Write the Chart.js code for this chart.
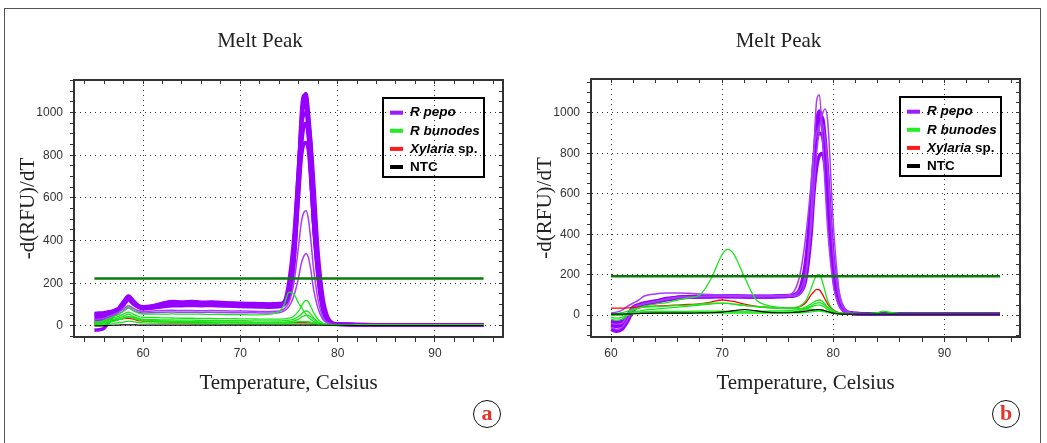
<!DOCTYPE html>
<html>
<head>
<meta charset="utf-8">
<script src="https://cdn.jsdelivr.net/npm/chart.js@4.4.1/dist/chart.umd.min.js"></script>
<style>
  body { margin: 0; background: #fff; width: 1047px; height: 443px; overflow: hidden; position: relative; }
  #frame { position: absolute; left: 4px; top: 8px; width: 1037px; height: 445px; border: 1px solid #555; box-sizing: border-box; }
  .box { position: absolute; top: 9px; height: 430px; }
  #boxA { left: 5px; width: 510px; }
  #boxB { left: 521px; width: 515px; }
  .tag { position: absolute; top: 400px; width: 28px; height: 28px; border: 1.5px solid #111; border-radius: 50%;
         box-sizing: border-box; color: #e6332a; font: bold 22px "Liberation Serif", serif; text-align: center; line-height: 23px; }
</style>
</head>
<body>
<div id="frame"></div>
<div class="box" id="boxA"><canvas id="chartA" width="510" height="430"></canvas></div>
<div class="box" id="boxB"><canvas id="chartB" width="515" height="430"></canvas></div>
<div class="tag" style="left:473px">a</div>
<div class="tag" style="left:992px">b</div>

<script>
// ---- panel a : temperatures (°C) ----
const tempsA = [55, 55.5, 56, 56.5, 57, 57.5, 58, 58.5, 59, 59.5, 60,
  61, 62, 63, 64, 65, 66, 67, 68, 69, 70, 71, 72, 73, 74,
  74.5, 75, 75.5, 76,
  76.25, 76.5, 76.75, 77, 77.25, 77.5,
  78, 78.5, 79, 79.5, 80,
  82, 84, 86, 88, 90, 92, 95];

// R pepo curves, panel a
const pepoA = [
  [50,52,55,62,70,82,112,140,118,96,88, 92,102,110,108,112,108,110,106,105,103,102,101,100,102, 108,150,330,720, 920,1060,1090,1000,850,650, 300,100,30,12,9, 7,6,6,5,5,5,5],
  [-20,-18,-10,20,55,75,105,130,110,92,85, 90,98,104,103,105,102,104,101,100,98,97,96,95,97, 112,170,380,760, 950,1050,1020,920,760,560, 250,80,24,10,8, 6,6,5,5,5,5,5],
  [40,42,46,55,65,78,100,125,105,90,82, 88,95,100,100,102,100,101,99,98,97,96,95,94,96, 110,210,420,760, 920,990,1000,960,860,700, 340,130,40,14,9, 7,6,6,5,5,5,5],
  [10,15,25,45,62,74,98,122,102,88,80, 84,90,94,95,96,95,96,94,93,91,90,89,88,90, 100,140,300,640, 820,930,950,880,700,500, 220,70,20,9,7, 6,5,5,5,5,5,5],
  [58,60,62,66,72,84,115,138,115,95,90, 95,106,114,112,115,111,112,110,108,106,105,104,103,105, 110,160,340,720, 980,1080,1040,900,700,500, 230,75,22,10,8, 6,6,5,5,5,5,5],
  [25,28,35,50,64,76,102,128,108,92,84, 86,92,97,97,99,97,98,96,95,94,93,92,91,93, 104,140,290,620, 780,850,860,820,680,500, 240,90,28,11,8, 6,6,5,5,5,5,5]
];
const pepoThinA = [
  [30,32,36,45,55,65,80,95,82,72,68, 70,72,73,72,72,71,72,71,70,70,69,68,68,70, 80,110,200,380, 480,530,540,500,400,280, 120,40,15,8,6, 5,5,5,5,5,5,5],
  [20,22,28,38,48,56,70,85,72,64,60, 62,64,65,64,64,63,64,63,62,62,62,61,61,62, 70,90,140,230, 290,325,340,320,260,180, 80,30,12,7,5, 5,5,5,5,5,5,5]
];
// R bunodes curves, panel a
const bunodesA = [
  [15,18,25,35,45,55,70,88,72,60,55, 55,55,56,55,55,55,54,54,53,53,52,52,55,68, 100,158,150,105, 90,70,55,40,30,22, 12,8,6,5,5, 5,5,5,5,5,5,5],
  [10,12,18,28,38,45,55,65,55,45,40, 40,38,37,36,36,35,35,34,34,33,33,32,32,32, 33,36,45,70, 90,110,120,112,90,65, 30,12,7,5,5, 5,5,5,5,5,5,5],
  [8,10,14,22,30,38,45,55,45,35,30, 30,28,28,27,27,26,26,25,25,25,24,24,24,24, 25,27,32,45, 55,65,70,66,55,40, 18,8,6,5,5, 5,5,5,5,5,5,5],
  [5,6,10,16,22,28,35,42,35,28,24, 22,20,20,19,19,18,18,18,18,17,17,17,17,18, 18,20,24,32, 40,46,50,48,42,32, 15,7,5,5,5, 5,5,5,5,5,5,5],
  [20,20,22,25,28,32,38,45,40,32,28, 26,24,22,21,20,19,18,17,17,16,16,15,15,15, 15,16,18,20, 20,20,20,19,18,16, 10,6,5,5,5, 5,5,5,5,5,5,5],
  [2,3,5,8,12,15,18,22,20,16,14, 13,12,12,12,11,11,11,10,10,10,10,10,10,10, 10,10,10,10, 10,10,10,10,9,9, 7,6,5,5,5, 5,5,5,5,5,5,5]
];
// Xylaria sp. and NTC, panel a
const xylariaA = [15,16,18,22,26,30,34,36,32,25,22, 20,19,18,18,18,17,17,17,16,16,16,15,15,15, 15,15,15,15, 15,15,15,14,14,13, 10,7,5,5,5, 5,5,5,5,5,5,5];
const ntcA = [0,0,1,2,3,4,5,5,5,4,4, 4,4,4,4,4,4,4,4,4,4,4,4,4,4, 4,4,4,4, 4,4,4,4,4,4, 3,3,3,3,3, 2,2,2,2,2,2,2];
const thresholdA = 222;
const thresholdSpanA = [55, 95];

// ---- panel b : temperatures (°C) ----
const tempsB = [60, 60.5, 61, 61.5, 62, 62.5, 63,
  64, 65, 66, 67, 68, 69, 70,
  70.5, 71, 72, 73, 74, 75, 76,
  76.5, 77, 77.5, 78,
  78.25, 78.5, 78.75, 79, 79.25, 79.5,
  80, 80.5, 81, 81.5, 82,
  83, 84, 84.5, 85, 86,
  88, 90, 92, 95];

const pepoB = [
  [-50,-55,-50,-10,35,48,56, 66,78,87,90,91,92,92, 92,92,92,91,91,92,94, 98,115,200,480, 720,900,970,980,880,700, 250,70,22,11,8, 6,6,6,5,5, 5,5,5,5],
  [-30,-35,-30,0,40,52,60, 70,82,89,92,94,94,95, 95,95,94,94,94,95,97, 102,130,260,560, 760,870,900,890,800,640, 280,90,28,12,8, 6,6,6,5,5, 5,5,5,5],
  [-70,-80,-70,-30,25,45,54, 64,76,85,88,90,90,91, 91,91,90,90,90,91,93, 96,110,170,400, 600,730,790,800,740,600, 230,70,22,10,7, 6,6,5,5,5, 5,5,5,5],
  [-45,-50,-45,-5,38,50,57, 67,79,87,90,92,93,93, 93,93,92,92,92,93,95, 99,112,190,470, 740,950,1010,960,800,560, 200,60,20,10,8, 6,6,6,5,5, 5,5,5,5]
];
const pepoThinB = [
  [-40,-45,-40,0,40,50,58, 68,80,88,90,92,92,93, 93,92,92,92,92,92,93, 95,105,180,500, 800,1060,1090,900,650,420, 150,50,18,10,8, 6,6,6,5,5, 5,5,5,5],
  [-60,-70,-60,-20,30,48,56, 66,78,86,90,92,93,93, 93,93,92,92,93,94,96, 100,125,200,420, 620,800,920,990,1020,960, 450,130,35,14,9, 7,6,6,5,5, 5,5,5,5],
  [10,15,25,45,60,75,95, 105,110,110,108,105,102,100, 98,97,96,95,95,96,100, 120,200,380,650, 820,900,940,950,880,720, 300,95,30,12,8, 6,6,6,5,5, 5,5,5,5]
];
const bunodesB = [
  [5,5,5,10,25,35,45, 55,62,75,85,100,180,300, 325,305,190,80,50,40,35, 33,32,30,28, 26,25,24,22,20,18, 12,8,6,6,6, 6,6,6,6,6, 5,5,5,5],
  [-10,-15,-10,5,15,20,25, 30,35,40,45,50,55,60, 58,55,48,42,38,36,35, 38,45,70,130, 170,195,200,170,120,70, 25,12,8,6,6, 6,6,6,6,6, 5,5,5,5],
  [0,0,2,8,12,15,17, 18,18,19,19,20,20,20, 20,20,20,20,20,21,22, 25,30,40,55, 65,72,75,70,55,40, 18,9,6,6,6, 7,12,20,15,8, 5,5,5,5],
  [-20,-25,-20,0,8,10,12, 13,14,14,15,15,15,15, 15,15,15,15,15,15,16, 18,22,30,40, 46,50,50,46,38,28, 14,8,6,6,6, 6,6,6,6,6, 5,5,5,5],
  [5,8,12,20,30,35,40, 42,45,48,50,55,60,60, 58,55,48,42,38,35,33, 32,32,35,45, 55,60,62,58,48,35, 18,9,6,6,6, 6,6,6,6,6, 5,5,5,5],
  [0,0,2,6,8,10,10, 10,10,10,10,10,10,10, 10,10,10,10,10,10,11, 12,12,14,16, 18,20,20,18,16,14, 9,7,6,6,6, 6,6,6,6,6, 5,5,5,5]
];
const xylariaB = [35,35,35,36,38,40,42, 45,47,50,53,56,65,75, 72,68,55,45,40,36,36, 37,42,60,100, 115,128,125,105,80,55, 25,12,8,6,6, 6,6,6,6,6, 5,5,5,5];
const ntcB = [5,5,5,6,7,8,9, 10,10,10,10,11,12,15, 18,22,28,22,15,12,12, 14,16,20,24, 26,27,28,26,22,18, 10,6,5,5,5, 5,5,5,5,5, 5,5,5,5];
const thresholdB = 193;
const thresholdSpanB = [60, 95];

const legendItems = [
  { color: '#9d1cff', parts: [['R pepo', 'italic bold']] },
  { color: '#22ee22', parts: [['R bunodes', 'italic bold']] },
  { color: '#ff1a1a', parts: [['Xylaria', 'italic bold'], [' sp.', 'bold']] },
  { color: '#000000', parts: [['NTC', 'bold']] }
];

const PURPLE = '#9600ff', PURPLE_THIN = '#a83cff', GREEN = '#19e619', RED = '#ff0000', DKGREEN = '#0b7a0b';

// legend box drawn inside the plot, top right
const legendBox = {
  id: 'legendBox',
  afterDraw(chart) {
    const { ctx, chartArea } = chart;
    const x = chartArea.right - 120, y = chartArea.top + 18;
    ctx.save();
    ctx.lineWidth = 2;
    ctx.strokeStyle = '#000';
    ctx.strokeRect(x, y, 101, 79);
    legendItems.forEach((item, i) => {
      const ry = y + 14.7 + i * 18.1;
      ctx.fillStyle = item.color;
      ctx.fillRect(x + 7, ry - 2, 13, 4);
      let tx = x + 27;
      ctx.textBaseline = 'middle';
      item.parts.forEach(([text, style]) => {
        ctx.font = style + ' 13.5px "Liberation Sans", Arial, sans-serif';
        ctx.fillStyle = '#000';
        ctx.fillText(text, tx, ry);
        tx += ctx.measureText(text).width;
      });
    });
    ctx.restore();
  }
};

function line(temps, values, color, width) {
  return {
    data: temps.map((t, i) => ({ x: t, y: values[i] })),
    borderColor: color, borderWidth: width, pointRadius: 0,
    cubicInterpolationMode: 'monotone', fill: false
  };
}

function buildChart(id, temps, set, box) {
  const datasets = [];
  datasets.push({
    data: [{ x: set.span[0], y: set.threshold }, { x: set.span[1], y: set.threshold }],
    borderColor: DKGREEN, borderWidth: 2.5, pointRadius: 0
  });
  datasets.push(line(temps, set.ntc, '#000', 1.2));
  set.bunodes.forEach(v => datasets.push(line(temps, v, GREEN, 1.3)));
  datasets.push(line(temps, set.xylaria, RED, 1.3));
  set.thin.forEach(v => datasets.push(line(temps, v, PURPLE_THIN, 1.5)));
  set.pepo.forEach(v => datasets.push(line(temps, v, PURPLE, 3.5)));

  const tickFont = { family: '"Liberation Sans", Arial, sans-serif', size: 12 };
  const serif = { family: '"Liberation Serif", "Times New Roman", serif', size: 21, weight: 'normal' };

  return new Chart(document.getElementById(id), {
    type: 'line',
    data: { datasets },
    plugins: [legendBox],
    options: {
      responsive: false,
      animation: false,
      layout: { padding: 0 },
      plugins: {
        legend: { display: false },
        tooltip: { enabled: false },
        title: { display: true, text: 'Melt Peak', color: '#222', font: serif, padding: { top: 20, bottom: 0 } }
      },
      scales: {
        x: {
          type: 'linear', position: 'bottom', min: set.xMin, max: set.xMax,
          ticks: {
            stepSize: 2, includeBounds: false, autoSkip: false, maxRotation: 0,
            color: '#333', font: tickFont, padding: 4,
            callback: v => (v % 10 === 0 ? v : '')
          },
          grid: {
            color: c => (c.tick && c.tick.value % 10 === 0 ? '#333' : 'rgba(0,0,0,0)'),
            tickColor: '#333', tickLength: 5, tickWidth: 1, tickBorderDash: []
          },
          border: { color: '#333', width: 2, dash: [1, 4] },
          title: { display: true, text: 'Temperature, Celsius', color: '#222', font: serif, padding: { top: 0, bottom: 43.4 } },
          afterFit: s => { s.height = 430 - box.bottom; }
        },
        x2: {
          type: 'linear', position: 'top', min: set.xMin, max: set.xMax,
          ticks: { stepSize: 2, includeBounds: false, display: false },
          grid: { drawOnChartArea: false, tickColor: '#333', tickLength: -4, tickBorderDash: [] },
          border: { color: '#333', width: 2 },
          afterFit: s => { s.height = box.top - 45.2; }
        },
        y: {
          type: 'linear', position: 'left', min: set.yMin, max: set.yMax,
          ticks: {
            stepSize: 50, includeBounds: false, autoSkip: false,
            color: '#333', font: tickFont, padding: 7,
            callback: v => (v % 200 === 0 && v >= 0 ? v : '')
          },
          grid: {
            color: c => (c.tick && c.tick.value % 200 === 0 ? '#333' : 'rgba(0,0,0,0)'),
            tickColor: '#333', tickLength: 4, tickWidth: 1, tickBorderDash: []
          },
          border: { color: '#333', width: 2, dash: [1, 4] },
          title: { display: true, text: '-d(RFU)/dT', color: '#222', font: serif, padding: { top: box.yTitle, bottom: 0 } },
          afterFit: s => { s.width = box.left; }
        },
        y2: {
          type: 'linear', position: 'right', min: set.yMin, max: set.yMax,
          ticks: { stepSize: 50, includeBounds: false, display: false },
          grid: { drawOnChartArea: false, tickColor: '#333', tickLength: -4, tickBorderDash: [] },
          border: { color: '#333', width: 2 },
          afterFit: s => { s.width = box.width - box.right; }
        }
      }
    }
  });
}

buildChart('chartA', tempsA, {
  pepo: pepoA, thin: pepoThinA, bunodes: bunodesA, xylaria: xylariaA, ntc: ntcA,
  threshold: thresholdA, span: thresholdSpanA, xMin: 52.9, xMax: 97, yMin: -52, yMax: 1153
}, { width: 510, left: 69, right: 498, top: 71, bottom: 328, yTitle: 10.4 });

buildChart('chartB', tempsB, {
  pepo: pepoB, thin: pepoThinB, bunodes: bunodesB, xylaria: xylariaB, ntc: ntcB,
  threshold: thresholdB, span: thresholdSpanB, xMin: 58.2, xMax: 96.8, yMin: -108, yMax: 1168
}, { width: 515, left: 70, right: 499, top: 70, bottom: 328, yTitle: 11.4 });
</script>
</body>
</html>
